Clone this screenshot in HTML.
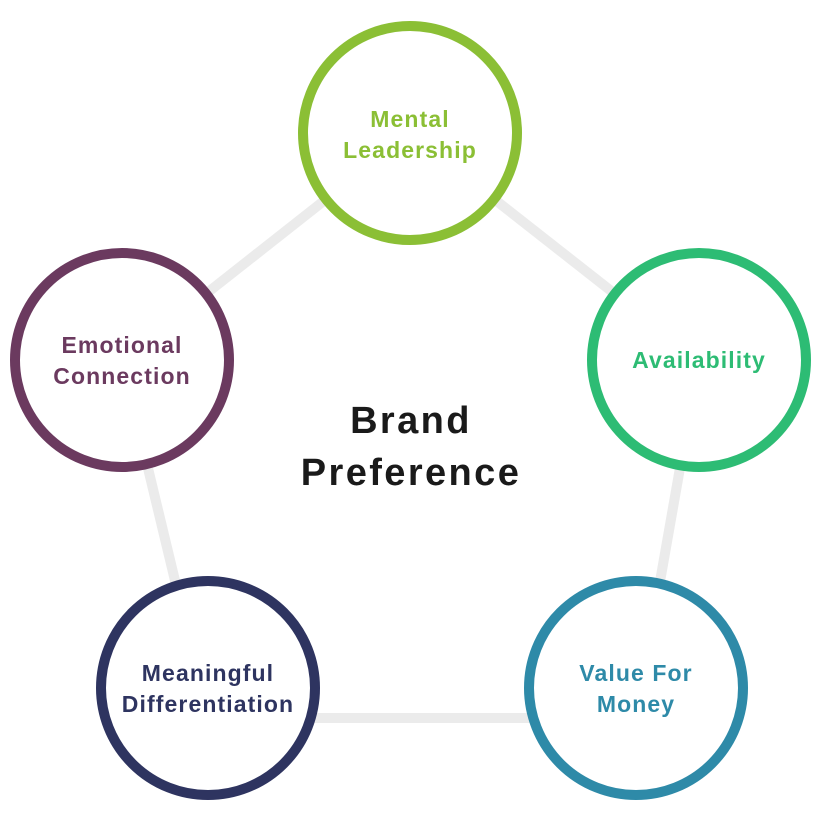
<!DOCTYPE html>
<html><head><style>body{margin:0;background:#fff}svg{display:block}</style></head><body>
<svg width="822" height="822" xmlns="http://www.w3.org/2000/svg" font-family="Liberation Sans, sans-serif" font-weight="bold" text-anchor="middle">
<g stroke="#ebebeb" stroke-width="10" fill="none">
<polyline points="208,718 122,360 410,133 699,360 636,718"/>
<line x1="208" y1="718" x2="636" y2="718"/>
</g>
<g stroke-width="10" fill="#fff">
<circle cx="410" cy="133" r="107" stroke="#8bbf35"/>
<circle cx="699" cy="360" r="107" stroke="#2dbc74"/>
<circle cx="636" cy="688" r="107" stroke="#2e8aa8"/>
<circle cx="208" cy="688" r="107" stroke="#2e3460"/>
<circle cx="122" cy="360" r="107" stroke="#6b3a5f"/>
</g>
<g font-size="23" letter-spacing="1.1">
<text x="410" y="127" fill="#8bbf35">Mental</text>
<text x="410" y="158" fill="#8bbf35">Leadership</text>
<text x="699" y="368" fill="#2dbc74">Availability</text>
<text x="636" y="681" fill="#2e8aa8">Value For</text>
<text x="636" y="712" fill="#2e8aa8">Money</text>
<text x="208" y="681" fill="#2e3460">Meaningful</text>
<text x="208" y="712" fill="#2e3460">Differentiation</text>
<text x="122" y="353" fill="#6b3a5f">Emotional</text>
<text x="122" y="384" fill="#6b3a5f">Connection</text>
</g>
<g font-size="38" fill="#1a1a1a" letter-spacing="2.4">
<text x="411" y="433">Brand</text>
<text x="411" y="485">Preference</text>
</g>
</svg>
</body></html>
